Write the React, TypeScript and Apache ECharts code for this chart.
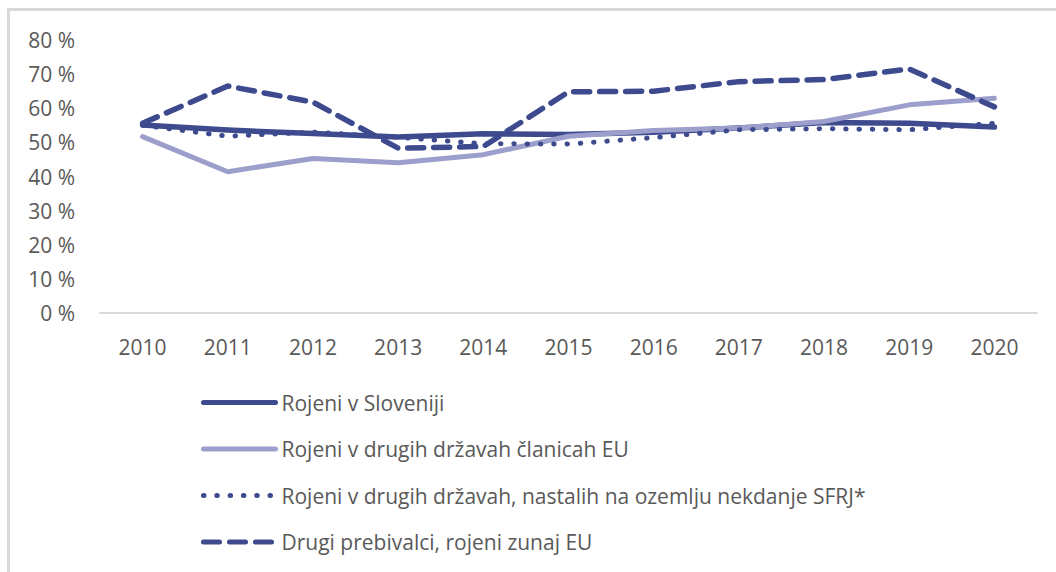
import React, { useEffect, useRef } from "react";
import * as echarts from "echarts";

const years = ["2010", "2011", "2012", "2013", "2014", "2015", "2016", "2017", "2018", "2019", "2020"];
const seriesNames = [
  "Rojeni v Sloveniji",
  "Rojeni v drugih državah članicah EU",
  "Rojeni v drugih državah, nastalih na ozemlju nekdanje SFRJ*",
  "Drugi prebivalci, rojeni zunaj EU",
];
const slovenia = [55.1, 53.6, 52.6, 51.6, 52.5, 52.3, 53.0, 54.2, 55.8, 55.6, 54.5];
const euMembers = [51.7, 41.4, 45.3, 44.0, 46.4, 51.8, 53.5, 54.2, 56.1, 61.0, 62.9];
const exYu = [55.0, 51.8, 53.0, 51.5, 49.6, 49.5, 51.4, 53.7, 54.0, 53.7, 55.6];
const outsideEu = [55.6, 66.5, 61.8, 48.3, 48.8, 64.8, 65.0, 67.8, 68.4, 71.5, 60.4];
const yTicks = { min: 0, max: 80, interval: 10 };

const DARK = "#3d4a8e";
const LIGHT = "#9c9ecb";
const FONT = "'Open Sans', sans-serif";

export default function App() {
  const ref = useRef<HTMLDivElement>(null);
  useEffect(() => {
    if (!ref.current) return;
    const chart = echarts.init(ref.current, null, { renderer: "svg" });
    const mk = (name: string, data: number[], color: string, type: any, width: number) => ({
      name,
      type: "line",
      data,
      symbol: "none",
      showSymbol: false,
      lineStyle: { color, width, type, cap: "round", join: "round" },
      itemStyle: { color },
      z: 2,
    });
    chart.setOption({
      animation: false,
      backgroundColor: "#ffffff",
      graphic: [
        {
          type: "rect",
          shape: { x: 8.5, y: 9.5, width: 1100, height: 700 },
          style: { fill: "none", stroke: "#d9d9d9", lineWidth: 3 },
          silent: true,
        },
      ],
      grid: { left: 100, right: 19, top: 40, bottom: 259 },
      xAxis: {
        type: "category",
        data: years,
        boundaryGap: true,
        axisLine: { show: true, lineStyle: { color: "#d9d9d9", width: 2 } },
        axisTick: { show: false },
        axisLabel: { color: "#595959", fontSize: 21, fontFamily: FONT, margin: 23 },
      },
      yAxis: {
        type: "value",
        min: yTicks.min,
        max: yTicks.max,
        interval: yTicks.interval,
        axisLine: { show: false },
        axisTick: { show: false },
        splitLine: { show: false },
        axisLabel: {
          color: "#595959",
          fontSize: 21,
          fontFamily: FONT,
          margin: 25,
          formatter: "{value} %",
        },
      },
      legend: {
        orient: "vertical",
        left: 196,
        top: 387,
        itemWidth: 72,
        itemHeight: 20,
        itemGap: 25.5,
        data: seriesNames,
        itemStyle: { opacity: 0 },
        lineStyle: { width: 5 },
        textStyle: { color: "#595959", fontSize: 21, fontFamily: FONT, padding: [0, 0, 0, 1] },
      },
      series: [
        mk(seriesNames[0], slovenia, DARK, "solid", 5.5),
        mk(seriesNames[1], euMembers, LIGHT, "solid", 5),
        mk(seriesNames[2], exYu, DARK, [0.5, 12.8], 5),
        mk(seriesNames[3], outsideEu, DARK, [16, 10], 5.5),
      ],
    });
    return () => chart.dispose();
  }, []);
  return (
    <div
      ref={ref}
      style={{ position: "fixed", left: 0, top: 0, width: 1056, height: 572 }}
    />
  );
}
